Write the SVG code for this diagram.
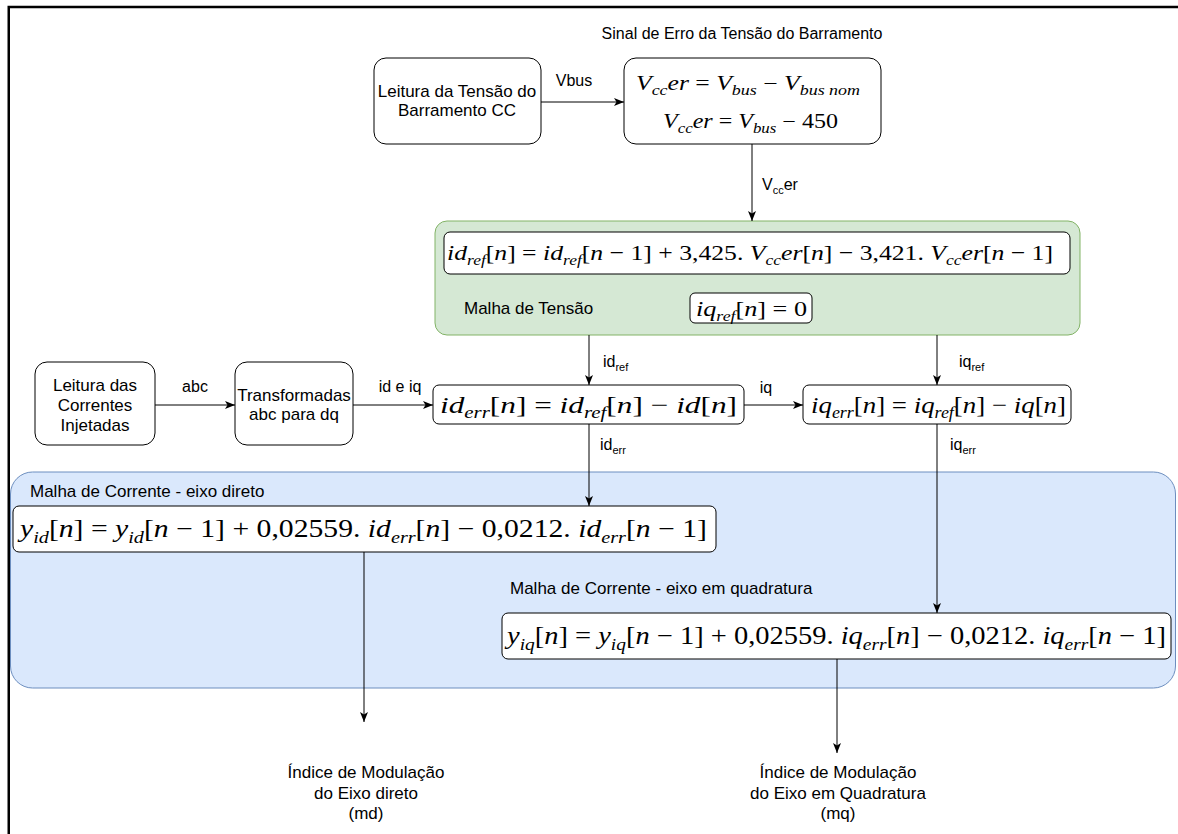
<svg xmlns="http://www.w3.org/2000/svg" width="1178" height="834" viewBox="0 0 1178 834">
<style>
.t{font-family:"Liberation Sans",Arial,sans-serif;font-size:16px;fill:#000}
.n{font-size:17px}
.c{text-anchor:middle}
.m{font-family:"Liberation Serif","Times New Roman",serif;fill:#000}
.i{font-style:italic}
.box{fill:#fff;stroke:#000;stroke-width:1}
.edge{fill:none;stroke:#000;stroke-width:1;marker-end:url(#arr)}
</style>
<defs>
<marker id="arr" viewBox="0 0 10 8" refX="10" refY="4" markerWidth="10" markerHeight="8" markerUnits="userSpaceOnUse" orient="auto">
<path d="M0,0 L10,4 L0,8 L2.5,4 Z" fill="#000"/>
</marker>
</defs>
<rect width="1178" height="834" fill="#fff"/>
<g id="containers">
<rect id="malha-corrente" x="10.5" y="472" width="1165" height="216" rx="22" fill="#dae8fc" stroke="#6c8ebf"/>
<rect id="malha-tensao" x="435" y="221" width="645" height="114" rx="12" fill="#d5e8d4" stroke="#82b366"/>
</g>
<path d="M8.75,834 V7 H1178" fill="none" stroke="#000" stroke-width="2.5"/>
<text class="t c" x="742" y="39">Sinal de Erro da Tensão do Barramento</text>
<g id="leitura-tensao">
<rect class="box" x="374" y="58" width="167" height="86" rx="12"/>
<text class="t n c" x="457" y="97">Leitura da Tensão do</text>
<text class="t n c" x="457" y="116">Barramento CC</text>
</g>
<g id="erro-tensao">
<rect class="box" x="624" y="58" width="257" height="86" rx="12"/>
<text class="m" x="636" y="90" font-size="20" textLength="224" lengthAdjust="spacingAndGlyphs"><tspan class="i">V</tspan><tspan class="i" font-size="14" dy="5">cc</tspan><tspan class="i" dy="-5">er</tspan> = <tspan class="i">V</tspan><tspan class="i" font-size="14" dy="5">bus</tspan><tspan dy="-5"> − </tspan><tspan class="i">V</tspan><tspan class="i" font-size="14" dy="5">bus nom</tspan></text>
<text class="m" x="663" y="128" font-size="20" textLength="175" lengthAdjust="spacingAndGlyphs"><tspan class="i">V</tspan><tspan class="i" font-size="14" dy="5">cc</tspan><tspan class="i" dy="-5">er</tspan> = <tspan class="i">V</tspan><tspan class="i" font-size="14" dy="5">bus</tspan><tspan dy="-5"> − 450</tspan></text>
</g>
<g id="idref-eq">
<rect class="box" x="444" y="232" width="626" height="42" rx="6"/>
<text class="m" x="447" y="260" font-size="22" textLength="606" lengthAdjust="spacingAndGlyphs"><tspan class="i">id</tspan><tspan class="i" font-size="15" dy="5">ref</tspan><tspan dy="-5">[</tspan><tspan class="i">n</tspan>] = <tspan class="i">id</tspan><tspan class="i" font-size="15" dy="5">ref</tspan><tspan dy="-5">[</tspan><tspan class="i">n</tspan> − 1] + 3,425. <tspan class="i">V</tspan><tspan class="i" font-size="15" dy="5">cc</tspan><tspan class="i" dy="-5">er</tspan>[<tspan class="i">n</tspan>] − 3,421. <tspan class="i">V</tspan><tspan class="i" font-size="15" dy="5">cc</tspan><tspan class="i" dy="-5">er</tspan>[<tspan class="i">n</tspan> − 1]</text>
</g>
<text class="t n" x="464" y="314">Malha de Tensão</text>
<g id="iqref-eq">
<rect class="box" x="690" y="293" width="122" height="30" rx="5"/>
<text class="m" x="696" y="316" font-size="22" textLength="111" lengthAdjust="spacingAndGlyphs"><tspan class="i">iq</tspan><tspan class="i" font-size="15" dy="5">ref</tspan><tspan dy="-5">[</tspan><tspan class="i">n</tspan>] = 0</text>
</g>
<g id="leitura-correntes">
<rect class="box" x="35" y="362" width="120" height="83" rx="12"/>
<text class="t n c" x="95" y="391">Leitura das</text>
<text class="t n c" x="95" y="411">Correntes</text>
<text class="t n c" x="95" y="431">Injetadas</text>
</g>
<g id="transformadas">
<rect class="box" x="235" y="362" width="118" height="83" rx="12"/>
<text class="t n c" x="294" y="401">Transformadas</text>
<text class="t n c" x="294" y="420">abc para dq</text>
</g>
<g id="iderr-eq">
<rect class="box" x="433" y="385" width="311" height="39" rx="6"/>
<text class="m" x="440" y="413" font-size="24" textLength="297" lengthAdjust="spacingAndGlyphs"><tspan class="i">id</tspan><tspan class="i" font-size="16" dy="5">err</tspan><tspan dy="-5">[</tspan><tspan class="i">n</tspan>] = <tspan class="i">id</tspan><tspan class="i" font-size="16" dy="5">ref</tspan><tspan dy="-5">[</tspan><tspan class="i">n</tspan>] − <tspan class="i">id</tspan>[<tspan class="i">n</tspan>]</text>
</g>
<g id="iqerr-eq">
<rect class="box" x="803" y="385" width="268" height="39" rx="6"/>
<text class="m" x="811" y="413" font-size="24" textLength="255" lengthAdjust="spacingAndGlyphs"><tspan class="i">iq</tspan><tspan class="i" font-size="16" dy="5">err</tspan><tspan dy="-5">[</tspan><tspan class="i">n</tspan>] = <tspan class="i">iq</tspan><tspan class="i" font-size="16" dy="5">ref</tspan><tspan dy="-5">[</tspan><tspan class="i">n</tspan>] − <tspan class="i">iq</tspan>[<tspan class="i">n</tspan>]</text>
</g>
<text class="t n" x="30" y="497">Malha de Corrente - eixo direto</text>
<g id="yid-eq">
<rect class="box" x="13" y="506" width="703" height="46" rx="6"/>
<text class="m" x="20" y="537" font-size="25" textLength="687" lengthAdjust="spacingAndGlyphs"><tspan class="i">y</tspan><tspan class="i" font-size="17" dy="6">id</tspan><tspan dy="-6">[</tspan><tspan class="i">n</tspan>] = <tspan class="i">y</tspan><tspan class="i" font-size="17" dy="6">id</tspan><tspan dy="-6">[</tspan><tspan class="i">n</tspan> − 1] + 0,02559. <tspan class="i">id</tspan><tspan class="i" font-size="17" dy="6">err</tspan><tspan dy="-6">[</tspan><tspan class="i">n</tspan>] − 0,0212. <tspan class="i">id</tspan><tspan class="i" font-size="17" dy="6">err</tspan><tspan dy="-6">[</tspan><tspan class="i">n</tspan> − 1]</text>
</g>
<text class="t n" x="510" y="594">Malha de Corrente - eixo em quadratura</text>
<g id="yiq-eq">
<rect class="box" x="502" y="613" width="669" height="46" rx="6"/>
<text class="m" x="507" y="644" font-size="25" textLength="659" lengthAdjust="spacingAndGlyphs"><tspan class="i">y</tspan><tspan class="i" font-size="17" dy="6">iq</tspan><tspan dy="-6">[</tspan><tspan class="i">n</tspan>] = <tspan class="i">y</tspan><tspan class="i" font-size="17" dy="6">iq</tspan><tspan dy="-6">[</tspan><tspan class="i">n</tspan> − 1] + 0,02559. <tspan class="i">iq</tspan><tspan class="i" font-size="17" dy="6">err</tspan><tspan dy="-6">[</tspan><tspan class="i">n</tspan>] − 0,0212. <tspan class="i">iq</tspan><tspan class="i" font-size="17" dy="6">err</tspan><tspan dy="-6">[</tspan><tspan class="i">n</tspan> − 1]</text>
</g>
<g id="md-out">
<text class="t n c" x="366" y="778">Índice de Modulação</text>
<text class="t n c" x="366" y="799">do Eixo direto</text>
<text class="t n c" x="366" y="819">(md)</text>
</g>
<g id="mq-out">
<text class="t n c" x="838" y="778">Índice de Modulação</text>
<text class="t n c" x="838" y="799">do Eixo em Quadratura</text>
<text class="t n c" x="838" y="819">(mq)</text>
</g>
<g id="connectors">
<path class="edge" d="M541,102 H624"/>
<path class="edge" d="M752,144 V221"/>
<path class="edge" d="M589,335 V385"/>
<path class="edge" d="M937,335 V385"/>
<path class="edge" d="M155,405 H235"/>
<path class="edge" d="M353,405 H433"/>
<path class="edge" d="M744,405 H803"/>
<path class="edge" d="M589,424 V506"/>
<path class="edge" d="M937,424 V613"/>
<path class="edge" d="M364,552 V722"/>
<path class="edge" d="M837,659 V753"/>
<text class="t c" x="574" y="86">Vbus</text>
<text class="t" x="762" y="190">V<tspan font-size="11" dy="4">cc</tspan><tspan dy="-4">er</tspan></text>
<text class="t" x="603" y="367">id<tspan font-size="11" dy="4">ref</tspan></text>
<text class="t" x="959" y="367">iq<tspan font-size="11" dy="4">ref</tspan></text>
<text class="t c" x="195" y="392">abc</text>
<text class="t c" x="400" y="392">id e iq</text>
<text class="t c" x="766" y="393">iq</text>
<text class="t" x="600" y="450">id<tspan font-size="11" dy="4">err</tspan></text>
<text class="t" x="950" y="450">iq<tspan font-size="11" dy="4">err</tspan></text>
</g>
</svg>
